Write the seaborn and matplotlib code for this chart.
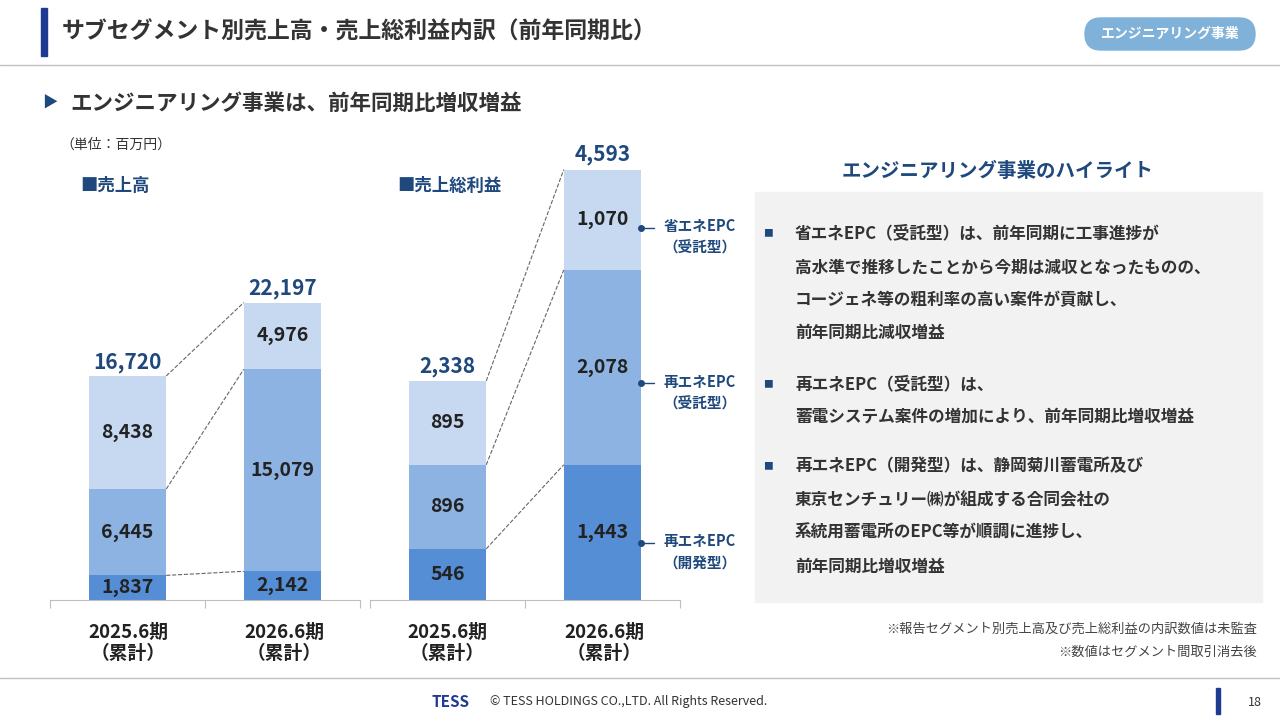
import matplotlib
matplotlib.use('Agg')
import matplotlib.pyplot as plt
import seaborn as sns
import pandas as pd
from matplotlib.patches import Rectangle, FancyBboxPatch

sns.set_style('white')
plt.rcParams['font.family'] = ['Noto Sans CJK JP', 'DejaVu Sans']

periods = ['2025.6期\n（累計）', '2026.6期\n（累計）']
seg_names = ['再エネEPC\n（開発型）', '再エネEPC\n（受託型）', '省エネEPC\n（受託型）']
sales = {'dev': [1837, 2142], 'ren': [6445, 15079], 'save': [8438, 4976]}
gross = {'dev': [546, 1443], 'ren': [896, 2078], 'save': [895, 1070]}
sales_total = [16720, 22197]
gross_total = [2338, 4593]

c_dev, c_ren, c_save = '#558ED5', '#8DB3E2', '#C6D9F1'
navy = '#1F497D'
W, H = 1280, 720

fig = plt.figure(figsize=(12.8, 7.2), dpi=100)


def T(x, y, s, **kw):
    fig.text(x / W, 1 - y / H, s, **kw)


def ax_px(x0, y0, x1, y1):
    return fig.add_axes([x0 / W, 1 - y1 / H, (x1 - x0) / W, (y1 - y0) / H])


def stacked(ax, data, totals, ymax, fmt_off):
    df = pd.DataFrame({'period': periods, 'dev': data['dev'], 'ren': data['ren'], 'save': data['save']})
    df['c1'] = df['dev']
    df['c2'] = df['dev'] + df['ren']
    df['c3'] = df['c2'] + df['save']
    for col, color in [('c3', c_save), ('c2', c_ren), ('c1', c_dev)]:
        sns.barplot(data=df, x='period', y=col, color=color, width=0.5, ax=ax,
                    saturation=1, errorbar=None, linewidth=0)
    for i in range(2):
        lows = [0, df['c1'][i], df['c2'][i]]
        vals = [df['dev'][i], df['ren'][i], df['save'][i]]
        for lo, v in zip(lows, vals):
            ax.text(i, lo + v / 2, f'{v:,}', ha='center', va='center', fontsize=14,
                    fontweight='bold', color='#222222')
        ax.text(i, totals[i] + fmt_off, f'{totals[i]:,}', ha='center', va='bottom',
                fontsize=15, fontweight='bold', color=navy)
    for col in ['c1', 'c2', 'c3']:
        ax.plot([0.25, 0.75], [df[col][0], df[col][1]], ls='--', lw=0.8, color='#666666')
    ax.set_xlim(-0.5, 1.5)
    ax.set_ylim(0, ymax)
    ax.set_xlabel('')
    ax.set_ylabel('')
    ax.set_yticks([])
    ax.set_xticks([-0.5, 0.5, 1.5])
    ax.set_xticklabels([])
    ax.tick_params(axis='x', length=6, color='#BFBFBF', direction='out', bottom=True)
    for s in ['top', 'left', 'right']:
        ax.spines[s].set_visible(False)
    ax.spines['bottom'].set_color('#BFBFBF')
    ax.patch.set_alpha(0)
    return df


ax1 = ax_px(50, 265, 360, 600)
stacked(ax1, sales, sales_total, 25000, 250)
ax2 = ax_px(370, 150, 680, 600)
df2 = stacked(ax2, gross, gross_total, 4800, 45)

for x, lab in [(128, periods[0]), (284, periods[1]), (447, periods[0]), (604, periods[1])]:
    T(x, 643, lab, ha='center', va='center', fontsize=13.5, fontweight='bold', color='#222222',
      linespacing=1.15)

# segment labels on the right of gross chart
for col, lo in [('dev', 0), ('ren', 'c1'), ('save', 'c2')]:
    base = 0 if lo == 0 else df2[lo][1]
    mid = base + df2[col][1] / 2 - df2[col][1] * 0.08
    ax2.plot([1.25, 1.33], [mid] * 2, color=navy, lw=1)
    ax2.plot(1.25, mid, 'o', color=navy, ms=4)
for y, lab in [(552, seg_names[0]), (393, seg_names[1]), (237, seg_names[2])]:
    T(700, y, lab, ha='center', va='center', fontsize=10.5, fontweight='bold', color=navy,
      linespacing=1.4)

T(60, 145, '（単位：百万円）', ha='left', va='center', fontsize=10, color='#333333')
T(80, 186, '■売上高', ha='left', va='center', fontsize=12.5, fontweight='bold', color=navy)
T(397, 186, '■売上総利益', ha='left', va='center', fontsize=12.5, fontweight='bold', color=navy)

# header
fig.patches.append(Rectangle((41 / W, 1 - 56 / H), 6 / W, 48 / H, transform=fig.transFigure,
                             color='#1F3A93'))
T(62, 32, 'サブセグメント別売上高・売上総利益内訳（前年同期比）', ha='left', va='center',
  fontsize=16.5, fontweight='bold', color='#333333')
pill = ax_px(1084, 17, 1256, 51)
pill.set_xlim(0, 172)
pill.set_ylim(0, 34)
pill.axis('off')
pill.add_patch(FancyBboxPatch((1, 1), 170, 32, boxstyle='round,pad=0,rounding_size=16',
                              color='#7FB1D9'))
T(1170, 34, 'エンジニアリング事業', ha='center', va='center', fontsize=10, fontweight='bold',
  color='white')
fig.lines.append(plt.Line2D([0, 1], [1 - 65 / H] * 2, transform=fig.transFigure, color='#BFBFBF', lw=1))
T(42, 103, '▶', ha='left', va='center', fontsize=11, color=navy)
T(70, 103, 'エンジニアリング事業は、前年同期比増収増益', ha='left', va='center', fontsize=15.5,
  fontweight='bold', color='#333333')

# highlight panel
T(998, 171, 'エンジニアリング事業のハイライト', ha='center', va='center', fontsize=14,
  fontweight='bold', color=navy)
fig.patches.append(Rectangle((755 / W, 1 - 602 / H), 507 / W, 410 / H, transform=fig.transFigure,
                             color='#F2F2F2'))
bullets = [
    (233, ['省エネEPC（受託型）は、前年同期に工事進捗が', '高水準で推移したことから今期は減収となったものの、',
           'コージェネ等の粗利率の高い案件が貢献し、', '前年同期比減収増益'], [233, 268, 300, 333]),
    (384, ['再エネEPC（受託型）は、', '蓄電システム案件の増加により、前年同期比増収増益'], [384, 417]),
    (466, ['再エネEPC（開発型）は、静岡菊川蓄電所及び', '東京センチュリー㈱が組成する合同会社の',
           '系統用蓄電所のEPC等が順調に進捗し、', '前年同期比増収増益'], [466, 500, 533, 567]),
]
for yb, lines, ys in bullets:
    T(768, yb, '■', ha='center', va='center', fontsize=7, color=navy)
    for s, y in zip(lines, ys):
        T(795, y, s, ha='left', va='center', fontsize=12, fontweight='bold', color='#333333')

T(1257, 629, '※報告セグメント別売上高及び売上総利益の内訳数値は未監査', ha='right', va='center',
  fontsize=9.5, color='#444444')
T(1257, 652, '※数値はセグメント間取引消去後', ha='right', va='center', fontsize=9.5, color='#444444')

# footer
fig.lines.append(plt.Line2D([0, 1], [1 - 678 / H] * 2, transform=fig.transFigure, color='#BFBFBF', lw=1))
T(450, 702, 'TESS', ha='center', va='center', fontsize=11, fontweight='bold', style='italic',
  color='#1F3A93')
T(490, 702, '© TESS HOLDINGS CO.,LTD. All Rights Reserved.', ha='left', va='center', fontsize=9,
  color='#333333')
fig.patches.append(Rectangle((1216 / W, 1 - 714 / H), 4 / W, 26 / H, transform=fig.transFigure,
                             color='#1F3A93'))
T(1255, 702, '18', ha='center', va='center', fontsize=9, color='#333333')

fig.savefig('out.png', dpi=100)
